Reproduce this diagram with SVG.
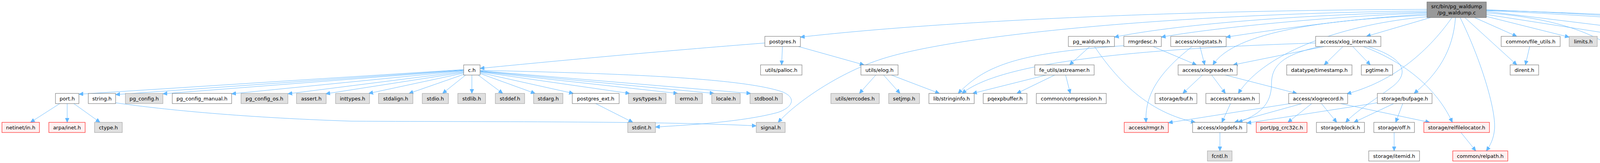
<svg xmlns="http://www.w3.org/2000/svg" width="4881" height="417" viewBox="0 0 4881 417">
<style>
text{font-family:"DejaVu Sans","Liberation Sans",sans-serif;font-size:13px;fill:#000;text-anchor:middle}
.n rect{fill:#fff;stroke:#666;stroke-width:1}
.g rect{fill:#e0e0e0;stroke:#999;stroke-width:1}
.r rect{fill:#fff0f0;stroke:#f00;stroke-width:1}
.m rect{fill:#999;stroke:#666;stroke-width:1}
#edges path{fill:none;stroke:#63b8ff;stroke-width:1;marker-end:url(#a)}
</style>
<defs>
<marker id="a" markerWidth="11" markerHeight="10" refX="11" refY="5" orient="auto" markerUnits="userSpaceOnUse"><path d="M0,0L11,5L0,10z" fill="#63b8ff" stroke="#63b8ff"/></marker>
</defs>
<rect width="4881" height="417" fill="#fff"/>
<g id="edges">
<path d="M3653,24 C3000,26 2400,55 2049,95"/>
<path d="M3653,28 C3000,35 2450,90 2260,150 C2150,185 2040,260 1992,313"/>
<path d="M3653,31 C3300,38 3000,65 2853,95"/>
<path d="M3653,33 C3400,42 3100,72 2973,95"/>
<path d="M3653,36 C3450,48 3250,78 3139,95"/>
<path d="M3653,39 C3400,50 3160,80 3105,166"/>
<path d="M3653,43 C3450,60 3240,130 3170,239"/>
<path d="M3662,45 L3498,93"/>
<path d="M3717,45 C3650,140 3560,210 3448,240"/>
<path d="M3726,45 C3720,130 3680,190 3620,239"/>
<path d="M3738,45 C3790,150 3830,280 3826,330 C3824,355 3815,372 3805,386"/>
<path d="M3750,45 L3883,166"/>
<path d="M3775,45 L3883,93"/>
<path d="M3805,42 L4017,95"/>
<path d="M3805,33 C3980,45 4120,90 4173,166"/>
<path d="M3805,37 L4165,93"/>
<path d="M3805,29 L4344,95"/>
<path d="M3805,25 C4200,40 4440,60 4465,110 C4475,160 4465,200 4455,239"/>
<path d="M3805,27 C4200,45 4450,70 4600,93"/>
<path d="M3805,26 C4300,40 4600,65 4790,93"/>
<path d="M1958,110 C1700,130 1400,158 1229,175"/>
<path d="M2003,119 L2001,166"/>
<path d="M2044,119 L2212,166"/>
<path d="M2242,192 L2200,239"/>
<path d="M2262,192 L2304,239"/>
<path d="M2282,192 L2405,239"/>
<path d="M2678,192 L2490,239"/>
<path d="M2700,192 L2603,239"/>
<path d="M2728,192 L2740,239"/>
<path d="M2790,119 L2738,166"/>
<path d="M2802,119 C2870,220 2950,290 3060,313"/>
<path d="M2952,119 L3063,166"/>
<path d="M2877,117 C2600,135 2520,170 2453,239"/>
<path d="M3368,110 C2900,125 2560,160 2463,239"/>
<path d="M3052,119 C2960,190 2930,250 2934,313"/>
<path d="M3072,119 L3084,166"/>
<path d="M3390,119 L3157,166"/>
<path d="M3438,119 L3390,166"/>
<path d="M3463,119 L3508,166"/>
<path d="M3380,119 C3280,140 3255,170 3255,215 C3255,270 3220,295 3170,313"/>
<path d="M3502,119 C3600,150 3610,190 3560,225 C3520,255 3470,285 3445,313"/>
<path d="M3490,119 C3600,160 3680,230 3718,313"/>
<path d="M3078,192 L3028,239"/>
<path d="M3102,192 L3137,239"/>
<path d="M3137,192 L3320,239"/>
<path d="M3150,265 L3128,313"/>
<path d="M3303,265 L2991,314"/>
<path d="M3333,265 L3160,313"/>
<path d="M3358,265 L3297,313"/>
<path d="M3383,265 L3422,313"/>
<path d="M3432,265 L3660,313"/>
<path d="M3526,263 L3192,315"/>
<path d="M3568,265 L3466,313"/>
<path d="M3591,265 L3573,313"/>
<path d="M3123,339 L3123,386"/>
<path d="M3569,339 L3569,386"/>
<path d="M3740,339 L3778,386"/>
<path d="M3916,119 L3905,166"/>
<path d="M4233,119 L4195,166"/>
<path d="M4400,119 L4403,166"/>
<path d="M4412,192 L4442,239"/>
<path d="M1192,192 L1133,239"/>
<path d="M1208,192 L1208,239"/>
<path d="M1224,192 L1287,239"/>
<path d="M1229,188 L1370,239"/>
<path d="M1229,186 L1468,239"/>
<path d="M1229,184 L1612,239"/>
<path d="M1229,183 L1735,239"/>
<path d="M1229,182 L1828,239"/>
<path d="M1229,181 L1922,239"/>
<path d="M1229,180 C1600,188 1900,200 2003,235 C2040,250 2030,275 1990,288 C1900,312 1760,320 1678,325"/>
<path d="M1188,190 L1047,239"/>
<path d="M1187,187 L944,239"/>
<path d="M1187,185 L834,240"/>
<path d="M1187,183 L737,240"/>
<path d="M1187,181 L593,240"/>
<path d="M1187,180 L417,240"/>
<path d="M1187,179 L296,242"/>
<path d="M1187,178 L202,241"/>
<path d="M1525,265 L1620,313"/>
<path d="M153,265 L78,313"/>
<path d="M172,265 L172,313"/>
<path d="M189,265 L256,313"/>
<path d="M296,263 C400,278 600,300 900,310 C1300,312 1700,310 1936,322"/>
</g>
<g id="n_main" class="m"><rect x="3653" y="5" width="152" height="40"/><text x="3729" y="21">src/bin/pg_waldump</text><text x="3729" y="37">/pg_waldump.c</text></g>
<g id="n_postgres" class="n"><rect x="1958" y="93" width="91" height="26"/><text x="2003.5" y="110.5">postgres.h</text></g>
<g id="n_pg_waldump_h" class="n"><rect x="2735" y="93" width="118" height="26"/><text x="2794" y="110.5">pg_waldump.h</text></g>
<g id="n_rmgrdesc" class="n"><rect x="2877" y="93" width="96" height="26"/><text x="2925" y="110.5">rmgrdesc.h</text></g>
<g id="n_xlogstats" class="n"><rect x="2997" y="93" width="142" height="26"/><text x="3068" y="110.5">access/xlogstats.h</text></g>
<g id="n_xlog_internal" class="n"><rect x="3368" y="93" width="167" height="26"/><text x="3451.5" y="110.5">access/xlog_internal.h</text></g>
<g id="n_file_utils" class="n"><rect x="3843" y="93" width="151" height="26"/><text x="3918.5" y="110.5">common/file_utils.h</text></g>
<g id="n_limits" class="g"><rect x="4017" y="93" width="72" height="26"/><text x="4053" y="110.5">limits.h</text></g>
<g id="n_file_perm" class="n"><rect x="4164" y="93" width="157" height="26"/><text x="4242.5" y="110.5">common/file_perm.h</text></g>
<g id="n_getopt_long" class="n"><rect x="4344" y="93" width="111" height="26"/><text x="4399.5" y="110.5">getopt_long.h</text></g>
<g id="n_fe_memutils" class="n"><rect x="4534" y="93" width="175" height="26"/><text x="4621.5" y="110.5">common/fe_memutils.h</text></g>
<g id="n_logging" class="n"><rect x="4733" y="93" width="144" height="26"/><text x="4805" y="110.5">common/logging.h</text></g>
<g id="n_c" class="n"><rect x="1187" y="166" width="42" height="26"/><text x="1208" y="183.5">c.h</text></g>
<g id="n_palloc" class="n"><rect x="1947" y="166" width="106" height="26"/><text x="2000" y="183.5">utils/palloc.h</text></g>
<g id="n_elog" class="n"><rect x="2204" y="166" width="95" height="26"/><text x="2251.5" y="183.5">utils/elog.h</text></g>
<g id="n_astreamer" class="n"><rect x="2649" y="166" width="152" height="26"/><text x="2725" y="183.5">fe_utils/astreamer.h</text></g>
<g id="n_xlogreader" class="n"><rect x="3016" y="166" width="151" height="26"/><text x="3091.5" y="183.5">access/xlogreader.h</text></g>
<g id="n_timestamp" class="n"><rect x="3294" y="166" width="167" height="26"/><text x="3377.5" y="183.5">datatype/timestamp.h</text></g>
<g id="n_pgtime" class="n"><rect x="3485" y="166" width="80" height="26"/><text x="3525" y="183.5">pgtime.h</text></g>
<g id="n_dirent" class="n"><rect x="3866" y="166" width="73" height="26"/><text x="3902.5" y="183.5">dirent.h</text></g>
<g id="n_sys_stat" class="g"><rect x="4141" y="166" width="86" height="26"/><text x="4184" y="183.5">sys/stat.h</text></g>
<g id="n_pg_getopt" class="n"><rect x="4354" y="166" width="99" height="26"/><text x="4403.5" y="183.5">pg_getopt.h</text></g>
<g id="n_port" class="n"><rect x="142" y="239" width="60" height="26"/><text x="172" y="256.5">port.h</text></g>
<g id="n_string" class="n"><rect x="226" y="239" width="70" height="26"/><text x="261" y="256.5">string.h</text></g>
<g id="n_pg_config" class="g"><rect x="321" y="239" width="96" height="26"/><text x="369" y="256.5">pg_config.h</text></g>
<g id="n_pg_config_manual" class="n"><rect x="441" y="239" width="152" height="26"/><text x="517" y="256.5">pg_config_manual.h</text></g>
<g id="n_pg_config_os" class="g"><rect x="617" y="239" width="120" height="26"/><text x="677" y="256.5">pg_config_os.h</text></g>
<g id="n_assert" class="g"><rect x="759" y="239" width="76" height="26"/><text x="797" y="256.5">assert.h</text></g>
<g id="n_inttypes" class="g"><rect x="859" y="239" width="87" height="26"/><text x="902.5" y="256.5">inttypes.h</text></g>
<g id="n_stdalign" class="g"><rect x="969" y="239" width="88" height="26"/><text x="1013" y="256.5">stdalign.h</text></g>
<g id="n_stdio" class="g"><rect x="1081" y="239" width="67" height="26"/><text x="1114.5" y="256.5">stdio.h</text></g>
<g id="n_stdlib" class="g"><rect x="1172" y="239" width="71" height="26"/><text x="1207.5" y="256.5">stdlib.h</text></g>
<g id="n_stddef" class="g"><rect x="1268" y="239" width="75" height="26"/><text x="1305.5" y="256.5">stddef.h</text></g>
<g id="n_stdarg" class="g"><rect x="1366" y="239" width="75" height="26"/><text x="1403.5" y="256.5">stdarg.h</text></g>
<g id="n_postgres_ext" class="n"><rect x="1465" y="239" width="120" height="26"/><text x="1525" y="256.5">postgres_ext.h</text></g>
<g id="n_sys_types" class="g"><rect x="1609" y="239" width="96" height="26"/><text x="1657" y="256.5">sys/types.h</text></g>
<g id="n_errno" class="g"><rect x="1729" y="239" width="69" height="26"/><text x="1763.5" y="256.5">errno.h</text></g>
<g id="n_locale" class="g"><rect x="1822" y="239" width="73" height="26"/><text x="1858.5" y="256.5">locale.h</text></g>
<g id="n_stdbool" class="g"><rect x="1920" y="239" width="83" height="26"/><text x="1961.5" y="256.5">stdbool.h</text></g>
<g id="n_errcodes" class="g"><rect x="2127" y="239" width="124" height="26"/><text x="2189" y="256.5">utils/errcodes.h</text></g>
<g id="n_setjmp" class="g"><rect x="2275" y="239" width="79" height="26"/><text x="2314.5" y="256.5">setjmp.h</text></g>
<g id="n_stringinfo" class="n"><rect x="2378" y="239" width="116" height="26"/><text x="2436" y="256.5">lib/stringinfo.h</text></g>
<g id="n_pqexpbuffer" class="n"><rect x="2517" y="239" width="112" height="26"/><text x="2573" y="256.5">pqexpbuffer.h</text></g>
<g id="n_compression" class="n"><rect x="2653" y="239" width="179" height="26"/><text x="2742.5" y="256.5">common/compression.h</text></g>
<g id="n_buf" class="n"><rect x="2957" y="239" width="107" height="26"/><text x="3010.5" y="256.5">storage/buf.h</text></g>
<g id="n_transam" class="n"><rect x="3087" y="239" width="137" height="26"/><text x="3155.5" y="256.5">access/transam.h</text></g>
<g id="n_xlogrecord" class="n"><rect x="3299" y="239" width="151" height="26"/><text x="3374.5" y="256.5">access/xlogrecord.h</text></g>
<g id="n_bufpage" class="n"><rect x="3526" y="239" width="140" height="26"/><text x="3596" y="256.5">storage/bufpage.h</text></g>
<g id="n_unistd" class="n"><rect x="4412" y="239" width="75" height="26"/><text x="4449.5" y="256.5">unistd.h</text></g>
<g id="n_netinet" class="r"><rect x="5" y="313" width="96" height="26"/><text x="53" y="330.5">netinet/in.h</text></g>
<g id="n_arpa" class="r"><rect x="125" y="313" width="93" height="26"/><text x="171.5" y="330.5">arpa/inet.h</text></g>
<g id="n_ctype" class="g"><rect x="242" y="313" width="71" height="26"/><text x="277.5" y="330.5">ctype.h</text></g>
<g id="n_stdint" class="g"><rect x="1607" y="313" width="71" height="26"/><text x="1642.5" y="330.5">stdint.h</text></g>
<g id="n_signal" class="g"><rect x="1936" y="313" width="74" height="26"/><text x="1973" y="330.5">signal.h</text></g>
<g id="n_rmgr" class="r"><rect x="2878" y="313" width="113" height="26"/><text x="2934.5" y="330.5">access/rmgr.h</text></g>
<g id="n_xlogdefs" class="n"><rect x="3053" y="313" width="139" height="26"/><text x="3122.5" y="330.5">access/xlogdefs.h</text></g>
<g id="n_pg_crc32c" class="r"><rect x="3216" y="313" width="130" height="26"/><text x="3281" y="330.5">port/pg_crc32c.h</text></g>
<g id="n_block" class="n"><rect x="3370" y="313" width="123" height="26"/><text x="3431.5" y="330.5">storage/block.h</text></g>
<g id="n_off" class="n"><rect x="3517" y="313" width="104" height="26"/><text x="3569" y="330.5">storage/off.h</text></g>
<g id="n_relfilelocator" class="r"><rect x="3645" y="313" width="168" height="26"/><text x="3729" y="330.5">storage/relfilelocator.h</text></g>
<g id="n_fcntl" class="g"><rect x="3091" y="386" width="63" height="26"/><text x="3122.5" y="403.5">fcntl.h</text></g>
<g id="n_itemid" class="n"><rect x="3504" y="386" width="130" height="26"/><text x="3569" y="403.5">storage/itemid.h</text></g>
<g id="n_relpath" class="r"><rect x="3719" y="386" width="141" height="26"/><text x="3789.5" y="403.5">common/relpath.h</text></g>
</svg>
